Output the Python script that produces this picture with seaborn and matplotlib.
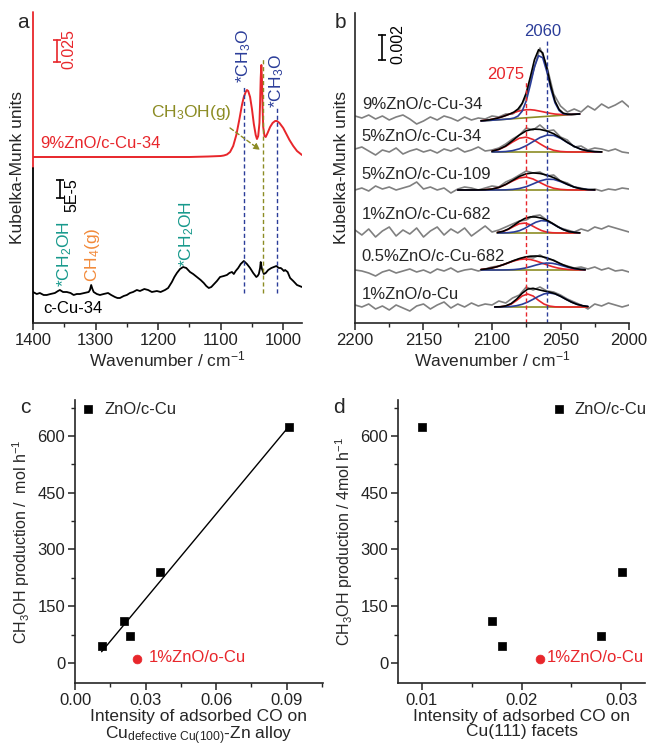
import numpy as np
import matplotlib
matplotlib.use("Agg")
import matplotlib.pyplot as plt
import seaborn as sns
from matplotlib.ticker import MultipleLocator, FormatStrFormatter

# ---------------- data: panel a (IR spectra, 1400-970 cm-1) ----------------
wn_a_red = [1400, 1350, 1300, 1250, 1200, 1150, 1120, 1100, 1095, 1090, 1085, 1080, 1075, 1070, 1066,
            1063, 1060, 1058, 1056, 1053, 1050, 1047, 1044, 1042, 1040, 1038, 1037, 1036, 1035, 1034,
            1033, 1032, 1030, 1028, 1025, 1021, 1017, 1013, 1010, 1006, 1000, 995, 990, 984, 978, 970]
km_a_red = [166, 166, 166, 166, 166, 166, 166.5, 167, 167.5, 168.5, 171, 177, 188, 204, 218,
            226, 231, 233, 232, 226, 214, 199, 188, 184, 187, 200, 220, 245, 258, 244,
            215, 196, 187, 186, 190, 196, 200, 202, 202, 200, 195, 189, 183, 177, 172, 168]

wn_a_black = [1400, 1394, 1389, 1383, 1378, 1372, 1365, 1360, 1357, 1352, 1346, 1340, 1335, 1330, 1325,
              1318, 1311, 1309, 1307, 1305, 1303, 1298, 1293, 1287, 1280, 1275, 1269, 1265, 1261, 1255,
              1250, 1245, 1240, 1234, 1229, 1222, 1216, 1210, 1202, 1196, 1189, 1184, 1181, 1178, 1174,
              1170, 1165, 1160, 1155, 1149, 1144, 1138, 1132, 1127, 1123, 1119, 1115, 1112, 1106, 1101,
              1095, 1090, 1086, 1082, 1079, 1076, 1072, 1068, 1063, 1058, 1053, 1048, 1043, 1041, 1039,
              1037, 1036, 1034, 1031, 1028, 1024, 1019, 1015, 1011, 1007, 1004, 1002, 999, 997, 993,
              989, 984, 978, 974, 970]
km_a_black = [31, 29, 30, 28, 28, 29, 30, 32, 33, 31, 31, 30, 28, 29, 29,
              30, 31, 33, 38, 34, 31, 29, 28, 29, 30, 28, 26, 25, 25, 27,
              28, 30, 31, 33, 32, 34, 33, 31, 32, 31, 33, 35, 38, 41, 46,
              50, 54, 56, 55, 51, 49, 46, 43, 40, 37, 35, 36, 38, 42, 46,
              47, 48, 50, 51, 49, 52, 55, 59, 62, 59, 55, 50, 46, 47, 49,
              55, 61, 54, 49, 50, 53, 55, 56, 57, 55, 55, 54, 52, 53, 51,
              45, 42, 38, 37, 36]

peaks_a_ch3o = [1062, 1010]
peak_a_ch3oh_g = 1033

# ---------------- data: panel b (CO region, 2200-2000 cm-1) ----------------
labels_b = ["9%ZnO/c-Cu-34", "5%ZnO/c-Cu-34", "5%ZnO/c-Cu-109",
            "1%ZnO/c-Cu-682", "0.5%ZnO/c-Cu-682", "1%ZnO/o-Cu"]
offsets_b = [205, 171, 133, 90, 53, 16]
base_left_b = [202, 171, 133, 90, 53, 16]
base_right_b = [209, 171, 133, 90, 53, 16]
wn_b = np.arange(2200, 1999, -5)

gray_1 = [2, 0, 3, -1, 2, -2, 1, 3, -1, -6, -3, 1, -2, 2, 0, -3, 1, -2, 0, -1, 2, 1, 4, 4, 9,
          22, 46, 70, 52, 24, 12, 6, 9, 6, 12, 8, 14, 10, 13, 17, 11]
gray_2 = [3, 5, 1, -3, 2, 0, 4, -2, 1, 3, 0, 2, -1, 3, 1, 4, 0, 2, 5, 1, 2, 4, 8, 13, 17,
          24, 22, 27, 21, 22, 15, 12, 5, 6, 2, 4, 3, 1, 3, 0, -1]
gray_3 = [0, 2, -1, 4, 1, 3, 0, 2, 4, 8, 1, 3, 0, 2, -3, 1, 3, 2, 0, 2, 4, 3, 8, 11, 15,
          19, 17, 18, 14, 15, 9, 7, 3, 2, 0, 1, -1, 1, 0, 2, 1]
gray_4 = [3, -2, 4, -4, 2, 6, -3, 3, -1, 5, -4, 2, 6, -2, 4, 0, 5, -3, 2, 7, 1, 3, 6, 9, 12,
          13, 17, 18, 13, 9, 5, 3, 1, 4, 2, 6, 4, 7, 5, 3, 1]
gray_5 = [0, -1, -3, -6, -2, 0, -3, -1, 1, -2, 0, -3, 1, -1, 2, -2, 0, 1, -1, 1, 3, 4, 6, 9, 11,
          13, 12, 15, 11, 10, 6, 4, 2, 3, 1, 3, 0, 2, -1, 0, -2]
gray_6 = [2, 0, 3, -2, 1, -3, 2, -1, -4, 1, 3, -2, 2, 5, -1, 3, 0, 4, 1, 3, 2, 6, 4, 9, 12,
          20, 17, 20, 16, 15, 12, 8, 5, 2, -2, 3, 1, 4, 2, 0, 2]

fit_x_1 = np.arange(2108, 2035, -3)
red_1 = [0.2, 0.35, 0.6, 1.1, 1.7, 2.6, 3.7, 4.9, 6.0, 7.1, 7.8, 8.0, 7.8, 7.1, 6.0, 4.9, 3.7,
         2.6, 1.7, 1.1, 0.6, 0.35, 0.2, 0.1, 0.05]
blue_1 = [0, 0, 0, 0, 0, 0, 0.02, 0.1, 0.6, 2.3, 6.9, 16.9, 32.8, 50.4, 61.2, 58.9, 44.8, 27.0,
          12.9, 4.9, 1.4, 0.4, 0.07, 0, 0]
fit_x_2 = np.arange(2100, 2019, -5)
red_2 = [0.8, 2.5, 5.6, 10.0, 13.8, 14.9, 12.5, 8.2, 4.2, 1.7, 0.5, 0.1, 0, 0, 0, 0, 0]
blue_2 = [0.04, 0.14, 0.45, 1.35, 3.2, 6.3, 10.4, 14.4, 16.8, 16.6, 13.7, 9.5, 5.6, 2.7, 1.1, 0.36, 0.12]
fit_x_3 = np.arange(2125, 2024, -5)
red_3 = [0, 0, 0.02, 0.07, 0.29, 0.95, 2.5, 5.4, 9.0, 12.1, 12.9, 11.0, 7.5, 4.1, 1.75, 0.6, 0.17,
         0.03, 0, 0, 0]
blue_3 = [0, 0, 0, 0, 0, 0.01, 0.04, 0.16, 0.55, 1.5, 3.3, 6.1, 9.0, 10.8, 10.6, 8.4, 5.5, 2.9,
          1.2, 0.43, 0.12]
fit_x_4 = np.arange(2096, 2035, -4)
red_4 = [0.52, 1.55, 3.7, 6.7, 9.3, 9.9, 8.2, 5.2, 2.5, 0.9, 0.27, 0.06, 0.01, 0, 0, 0]
blue_4 = [0.03, 0.09, 0.34, 1.0, 2.3, 4.7, 7.9, 10.8, 12.4, 11.9, 9.4, 6.2, 3.4, 1.5, 0.6, 0.18]
fit_x_5 = np.arange(2108, 2031, -4)
red_5 = [0.53, 1.08, 2.0, 3.4, 5.2, 7.2, 9.1, 10.5, 11.0, 10.5, 9.1, 7.2, 5.2, 3.4, 2.0, 1.08,
         0.53, 0.24, 0.1, 0.03]
blue_5 = [0, 0, 0, 0.01, 0.05, 0.15, 0.41, 0.95, 1.9, 3.3, 4.9, 6.3, 7.0, 6.7, 5.6, 4.0, 2.5, 1.4,
          0.64, 0.26]
fit_x_6 = np.arange(2098, 2029, -4)
red_6 = [0.03, 0.19, 0.9, 2.9, 6.6, 11.0, 13.0, 11.0, 6.6, 2.9, 0.9, 0.19, 0.03, 0, 0, 0, 0, 0]
blue_6 = [0.02, 0.07, 0.2, 0.55, 1.3, 2.7, 4.9, 7.7, 10.7, 13.1, 14.0, 13.1, 10.7, 7.7, 4.9, 2.7,
          1.3, 0.55]
peak_b_red = 2075
peak_b_blue = 2060

# ---------------- data: panels c, d ----------------
prod_cCu = [46, 112, 71, 241, 623]
co_alloy_cCu = [0.0113, 0.0210, 0.0234, 0.0363, 0.0908]
co_111_cCu = [0.0180, 0.0170, 0.0280, 0.0301, 0.0100]
prod_oCu = [10]
co_alloy_oCu = [0.0262]
co_111_oCu = [0.0219]

# ---------------- style ----------------
sns.set_theme(style="ticks")
plt.rcParams["font.family"] = ["Liberation Sans", "DejaVu Sans"]
plt.rcParams["mathtext.fontset"] = "custom"
plt.rcParams["mathtext.rm"] = "Liberation Sans"
plt.rcParams["mathtext.it"] = "Liberation Sans:italic"
plt.rcParams["mathtext.bf"] = "Liberation Sans:bold"
plt.rcParams["font.size"] = 12
plt.rcParams["axes.linewidth"] = 1.2

RED = "#e8262b"
BLUE = "#2b3d99"
OLIVE = "#8c8c24"
TEAL = "#17998c"
ORANGE = "#f28a3a"
GRAY = "#808080"

W, H = 651, 746
fig = plt.figure(figsize=(W / 100, H / 100), dpi=100)


def add_ax(l, t, r, b):
    return fig.add_axes([l / W, 1 - b / H, (r - l) / W, (b - t) / H])


axa = add_ax(33, 12, 302, 323)
axb = add_ax(355, 13, 629, 323)
axc = add_ax(75, 400, 323, 683)
axd = add_ax(398, 400, 645, 683)


def style_axes(ax):
    for s in ["top", "right"]:
        ax.spines[s].set_visible(False)
    ax.tick_params(which="major", direction="out", length=5, width=1.1, labelsize=12, pad=2,
                   colors="#222222")
    ax.tick_params(which="minor", direction="out", length=3, width=1.0)


# ---------------- panel a ----------------
sns.lineplot(x=wn_a_red, y=km_a_red, color=RED, lw=1.4, sort=False, estimator=None, ax=axa)
sns.lineplot(x=wn_a_black, y=km_a_black, color="black", lw=1.3, sort=False, estimator=None, ax=axa)
axa.set_xlim(1400, 970)
axa.set_ylim(0, 311)
style_axes(axa)
axa.spines["left"].set_visible(False)
axa.axvline(1400, ymin=155 / 311, ymax=1, color=RED, lw=1.3, clip_on=False)
axa.axvline(1400, ymin=0, ymax=155 / 311, color="black", lw=1.3, clip_on=False)
axa.set_yticks([])
axa.xaxis.set_major_locator(MultipleLocator(100))
axa.xaxis.set_minor_locator(MultipleLocator(50))
axa.set_xlabel("Wavenumber / cm$^{-1}$", fontsize=12.5, labelpad=1)
axa.set_ylabel("Kubelka-Munk units", fontsize=12.5, labelpad=6)

dash = (0, (3, 2))
axa.vlines(peaks_a_ch3o[0], 30, 236, colors=BLUE, linestyles=dash, lw=1.0)
axa.vlines(peaks_a_ch3o[1], 30, 216, colors=BLUE, linestyles=dash, lw=1.0)
axa.vlines(peak_a_ch3oh_g, 30, 265, colors=OLIVE, linestyles=dash, lw=1.0)
axa.annotate("", xy=(1037, 173), xytext=(1085, 195),
             arrowprops=dict(arrowstyle="-|>", color=OLIVE, lw=1.0, linestyle=(0, (3, 2)),
                             mutation_scale=9, shrinkA=0, shrinkB=0))

axa.text(1063, 240, "*CH$_3$O", color=BLUE, rotation=90, ha="center", va="bottom", fontsize=12.5)
axa.text(1011, 215, "*CH$_3$O", color=BLUE, rotation=90, ha="center", va="bottom", fontsize=12.5)
axa.text(1147, 211, "CH$_3$OH(g)", color=OLIVE, ha="center", va="center", fontsize=12.5)
axa.text(1349, 36, "*CH$_2$OH", color=TEAL, rotation=90, ha="center", va="bottom", fontsize=12.5)
axa.text(1305, 41, "CH$_4$(g)", color=ORANGE, rotation=90, ha="center", va="bottom", fontsize=12.5)
axa.text(1154, 56, "*CH$_2$OH", color=TEAL, rotation=90, ha="center", va="bottom", fontsize=12.5)
axa.text(1389, 179, "9%ZnO/c-Cu-34", color=RED, ha="left", va="center", fontsize=12)
axa.text(1384, 14, "c-Cu-34", color="black", ha="left", va="center", fontsize=12)
axa.plot([1362, 1362], [261, 283], color=RED, lw=1.2, marker="_", ms=6, mew=1.2)
axa.text(1343, 274, "0.025", color=RED, rotation=90, ha="center", va="center", fontsize=11.5)
axa.plot([1357, 1357], [125, 143], color="black", lw=1.2, marker="_", ms=6, mew=1.2)
axa.text(1338, 128, "5E-5", color="black", rotation=90, ha="center", va="center", fontsize=11.5)

# ---------------- panel b ----------------
grays = [gray_1, gray_2, gray_3, gray_4, gray_5, gray_6]
fit_xs = [fit_x_1, fit_x_2, fit_x_3, fit_x_4, fit_x_5, fit_x_6]
reds = [red_1, red_2, red_3, red_4, red_5, red_6]
blues = [blue_1, blue_2, blue_3, blue_4, blue_5, blue_6]
for i in range(6):
    sns.lineplot(x=wn_b, y=offsets_b[i] + np.array(grays[i]), color=GRAY, lw=1.2,
                 sort=False, estimator=None, ax=axb)
for i in range(6):
    fx = fit_xs[i]
    base = np.linspace(base_left_b[i], base_right_b[i], len(fx))
    r = base + np.array(reds[i])
    b = base + np.array(blues[i])
    k = base + np.array(reds[i]) + np.array(blues[i])
    sns.lineplot(x=fx, y=base, color=OLIVE, lw=1.2, sort=False, estimator=None, ax=axb)
    sns.lineplot(x=fx, y=r, color=RED, lw=1.2, sort=False, estimator=None, ax=axb)
    sns.lineplot(x=fx, y=b, color=BLUE, lw=1.2, sort=False, estimator=None, ax=axb)
    sns.lineplot(x=fx, y=k, color="black", lw=1.2, sort=False, estimator=None, ax=axb)

label_y_b = [218.5, 186.5, 148, 108, 66.5, 28]
for lab, ly in zip(labels_b, label_y_b):
    axb.text(2195, ly, lab, ha="left", va="center", fontsize=12)

axb.vlines(peak_b_red, 0, 241, colors=RED, linestyles=dash, lw=1.0)
axb.vlines(peak_b_blue, 0, 283, colors=BLUE, linestyles=dash, lw=1.0)
axb.text(2090, 248, "2075", color=RED, ha="center", va="center", fontsize=12)
axb.text(2063, 291, "2060", color=BLUE, ha="center", va="center", fontsize=12)
axb.plot([2180, 2180], [263, 288], color="black", lw=1.2, marker="_", ms=6, mew=1.2)
axb.text(2169, 279, "0.002", color="black", rotation=90, ha="center", va="center", fontsize=11.5)

axb.set_xlim(2200, 2000)
axb.set_ylim(0, 310)
style_axes(axb)
axb.set_yticks([])
axb.xaxis.set_major_locator(MultipleLocator(50))
axb.xaxis.set_minor_locator(MultipleLocator(25))
axb.set_xlabel("Wavenumber / cm$^{-1}$", fontsize=12.5, labelpad=1)
axb.set_ylabel("Kubelka-Munk units", fontsize=12.5, labelpad=4)

# ---------------- panel c ----------------
sns.regplot(x=co_alloy_cCu, y=prod_cCu, scatter=False, ci=None, truncate=True,
            line_kws=dict(color="black", lw=1.0), ax=axc)
sns.scatterplot(x=co_alloy_cCu, y=prod_cCu, marker="s", color="black", edgecolor="black",
                s=40, label="ZnO/c-Cu", zorder=3, ax=axc)
sns.scatterplot(x=co_alloy_oCu, y=prod_oCu, marker="o", color=RED, edgecolor=RED,
                s=40, zorder=3, legend=False, ax=axc)
axc.annotate("1%ZnO/o-Cu", xy=(co_alloy_oCu[0], prod_oCu[0]), xytext=(8.5, 1),
             textcoords="offset points", color=RED, ha="left", va="center", fontsize=12)
axc.set_xlim(0, 0.1054)
axc.set_ylim(-53, 695)
style_axes(axc)
axc.set_xticks([0.0, 0.03, 0.06, 0.09])
axc.xaxis.set_minor_locator(MultipleLocator(0.015))
axc.xaxis.set_major_formatter(FormatStrFormatter("%.2f"))
axc.set_yticks([0, 150, 300, 450, 600])
axc.yaxis.set_minor_locator(MultipleLocator(75))
axc.set_xlabel("Intensity of adsorbed CO on\nCu$_{\\mathrm{defective\\ Cu(100)}}$-Zn alloy",
               fontsize=12.5, labelpad=1, linespacing=1.0)
axc.set_ylabel("CH$_3$OH production /  mol h$^{-1}$", fontsize=11.5, labelpad=4)
axc.legend(loc="center left", bbox_to_anchor=(0.027, 0.967), frameon=False, fontsize=12,
           handlelength=0.8, handletextpad=0.55, borderaxespad=0, borderpad=0, markerscale=0.8)

# ---------------- panel d ----------------
sns.scatterplot(x=co_111_cCu, y=prod_cCu, marker="s", color="black", edgecolor="black",
                s=40, label="ZnO/c-Cu", zorder=3, ax=axd)
sns.scatterplot(x=co_111_oCu, y=prod_oCu, marker="o", color=RED, edgecolor=RED,
                s=40, zorder=3, legend=False, ax=axd)
axd.annotate("1%ZnO/o-Cu", xy=(co_111_oCu[0], prod_oCu[0]), xytext=(4.3, 1),
             textcoords="offset points", color=RED, ha="left", va="center", fontsize=12)
axd.set_xlim(0.0076, 0.0324)
axd.set_ylim(-53, 695)
style_axes(axd)
axd.set_xticks([0.01, 0.02, 0.03])
axd.xaxis.set_minor_locator(MultipleLocator(0.005))
axd.xaxis.set_major_formatter(FormatStrFormatter("%.2f"))
axd.set_yticks([0, 150, 300, 450, 600])
axd.yaxis.set_minor_locator(MultipleLocator(75))
axd.set_xlabel("Intensity of adsorbed CO on\nCu(111) facets", fontsize=12.5, labelpad=1,
               linespacing=1.0)
axd.set_ylabel("CH$_3$OH production / 4mol h$^{-1}$", fontsize=11.5, labelpad=4)
axd.legend(loc="center left", bbox_to_anchor=(0.6235, 0.967), frameon=False, fontsize=12,
           handlelength=0.8, handletextpad=0.55, borderaxespad=0, borderpad=0, markerscale=0.8)

# ---------------- panel letters ----------------
fig.text(17 / W, 1 - 28 / H, "a", fontsize=15, ha="left", va="baseline")
fig.text(335 / W, 1 - 28 / H, "b", fontsize=15, ha="left", va="baseline")
fig.text(20 / W, 1 - 413 / H, "c", fontsize=15, ha="left", va="baseline")
fig.text(333 / W, 1 - 413 / H, "d", fontsize=15, ha="left", va="baseline")

fig.savefig("out.png", dpi=100)
